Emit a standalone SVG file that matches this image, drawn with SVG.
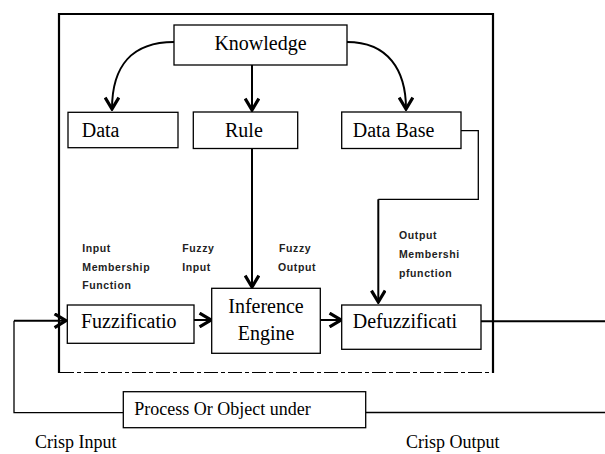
<svg xmlns="http://www.w3.org/2000/svg" width="605" height="454" viewBox="0 0 605 454">
<style>
.box{fill:#fff;stroke:#000;stroke-width:1.3}
.lbl{font-family:"Liberation Serif","Times New Roman",serif;font-size:20px;fill:#000}
.lbl2{font-family:"Liberation Serif","Times New Roman",serif;font-size:18px;fill:#000}
.sm{font-family:"Liberation Sans",Arial,sans-serif;font-size:10.5px;font-weight:bold;fill:#222;letter-spacing:0.6px}
.thick{fill:none;stroke:#000;stroke-width:2}
.thin{fill:none;stroke:#000;stroke-width:1.3}
</style>
<defs>
<marker id="ah" markerUnits="userSpaceOnUse" markerWidth="16" markerHeight="16" viewBox="0 0 12 14" refX="11" refY="7" orient="auto">
<path d="M1,1 L11,7 L1,13" fill="none" stroke="#000" stroke-width="2.8"/>
</marker>
</defs>
<rect width="605" height="454" fill="#fff"/>
<g id="frame">
<path d="M59,373 L59,14 L493,14 L493,373" fill="none" stroke="#000" stroke-width="2.2"/>
<line x1="60" y1="372.5" x2="492" y2="372.5" stroke="#000" stroke-width="1.2" stroke-dasharray="14 3 4 3"/>
</g>
<g id="connectors">
<path class="thick" d="M174,42 C132,42 112,66 112,109" stroke-width="2.6" marker-end="url(#ah)"/>
<path class="thick" d="M347,42 C388,42 406,70 406,109" stroke-width="2.6" marker-end="url(#ah)"/>
<line class="thick" x1="252" y1="65" x2="252" y2="110" marker-end="url(#ah)"/>
<line class="thick" x1="252" y1="148" x2="252" y2="287" marker-end="url(#ah)"/>
<path class="thin" d="M461,130.7 L478.3,130.7 L478.3,199.3 L378.3,199.3" stroke="#333"/>
<line class="thick" x1="378.3" y1="199.3" x2="378.3" y2="302" marker-end="url(#ah)"/>
<line class="thick" x1="194" y1="320" x2="211" y2="320" marker-end="url(#ah)"/>
<line class="thick" x1="320" y1="320" x2="341" y2="320" marker-end="url(#ah)"/>
<line class="thick" x1="14" y1="320.7" x2="66" y2="320.7" marker-end="url(#ah)"/>
<path class="thin" d="M14,320.7 L14,412.7 L123,412.7"/>
<line class="thin" x1="366" y1="412.5" x2="605" y2="412.5"/>
<line class="thick" x1="481" y1="321.3" x2="605" y2="321.3"/>
</g>
<g id="knowledge">
<rect class="box" x="174" y="25" width="173" height="40"/>
<text class="lbl" x="260.5" y="50" text-anchor="middle">Knowledge</text>
</g>
<g id="data">
<rect class="box" x="68" y="112.3" width="110" height="35.4"/>
<text class="lbl" x="81.7" y="137.3">Data</text>
</g>
<g id="rule">
<rect class="box" x="193.3" y="112" width="104.4" height="36.5"/>
<text class="lbl" x="225" y="137">Rule</text>
</g>
<g id="database">
<rect class="box" x="341.7" y="112" width="119.3" height="36.5"/>
<text class="lbl" x="352.7" y="137">Data Base</text>
</g>
<g id="fuzzification">
<rect class="box" x="67.3" y="305" width="126.7" height="38.3"/>
<text class="lbl" x="81" y="328.3">Fuzzificatio</text>
</g>
<g id="inference">
<rect class="box" x="211.7" y="288.3" width="108.6" height="65"/>
<text class="lbl" x="266" y="313" text-anchor="middle">Inference</text>
<text class="lbl" x="266" y="340" text-anchor="middle">Engine</text>
</g>
<g id="defuzzification">
<rect class="box" x="341.7" y="305" width="139.3" height="44.3"/>
<text class="lbl" x="352.7" y="328.3">Defuzzificati</text>
</g>
<g id="process">
<rect class="box" x="123.3" y="391.7" width="242.4" height="36"/>
<text class="lbl2" x="134.3" y="415">Process Or Object under</text>
</g>
<g id="labels">
<text class="sm" x="82.3" y="251.7">Input</text>
<text class="sm" x="82.3" y="271">Membership</text>
<text class="sm" x="82.3" y="289">Function</text>
<text class="sm" x="182.3" y="251.7">Fuzzy</text>
<text class="sm" x="182.3" y="271">Input</text>
<text class="sm" x="279" y="251.7">Fuzzy</text>
<text class="sm" x="278" y="271">Output</text>
<text class="sm" x="399" y="239">Output</text>
<text class="sm" x="399" y="258">Membershi</text>
<text class="sm" x="399" y="277">pfunction</text>
<text class="lbl2" x="35" y="448">Crisp Input</text>
<text class="lbl2" x="406" y="448">Crisp Output</text>
</g>
</svg>
